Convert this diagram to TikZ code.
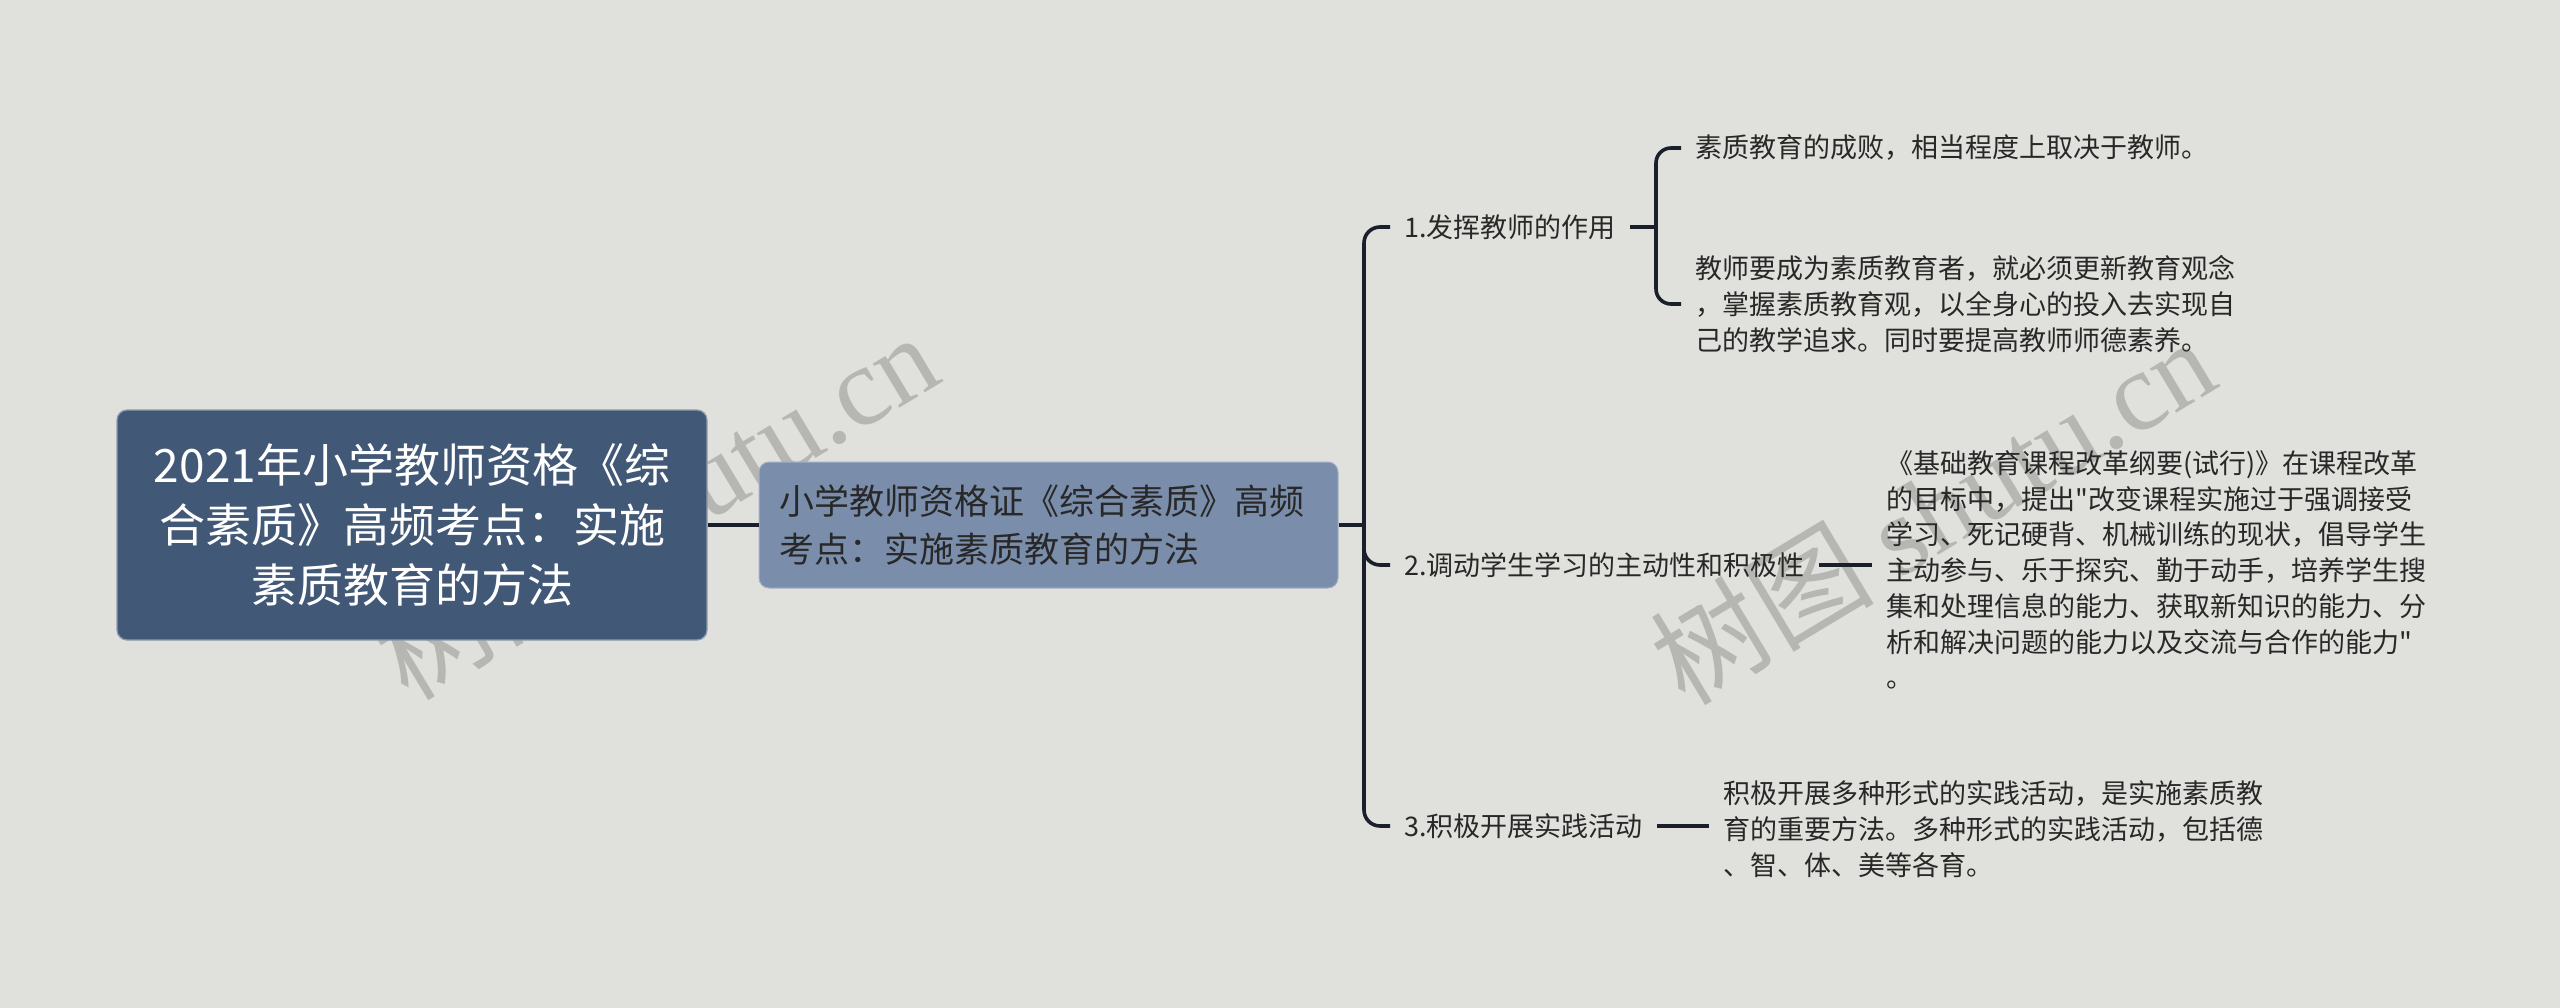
\documentclass[tikz,border=0pt]{standalone}
\usepackage{fontspec}
\setmainfont{Noto Sans CJK SC}
\newfontfamily\cjkf{Noto Sans CJK SC}
\newfontfamily\wmlatin{Liberation Serif}
\definecolor{bg}{RGB}{224,225,220}
\definecolor{rootfill}{RGB}{66,88,119}
\definecolor{subfill}{RGB}{122,142,172}
\definecolor{linec}{RGB}{26,31,44}
\definecolor{txt}{RGB}{40,40,40}
\definecolor{wm}{RGB}{182,182,179}
\begin{document}
\begin{tikzpicture}[x=1pt,y=-1pt,
  rootbox/.style={fill=rootfill,draw=rootfill!60!white,line width=1.2pt,rounded corners=10pt,
    text=white,align=center,text width=560pt,minimum height=230pt,minimum width=590pt,inner xsep=15pt,
    font=\cjkf\fontsize{46}{60}\selectfont},
  subbox/.style={fill=subfill,draw=subfill!70!white,line width=1pt,rounded corners=10pt,
    text=txt,align=left,text width=539pt,minimum height=126pt,inner xsep=20pt,
    font=\cjkf\fontsize{35}{48}\selectfont},
  itembox/.style={text=txt,inner xsep=14pt,inner ysep=2pt,anchor=west,
    font=\cjkf\fontsize{27}{35.7}\selectfont},
  leafbox/.style={text=txt,inner xsep=14pt,inner ysep=2pt,anchor=west,align=left,
    font=\cjkf\fontsize{27}{35.7}\selectfont},
  conn/.style={draw=linec,line width=3.6pt},
  wmark/.style={text=wm,rotate=31,font=\cjkf\fontsize{112}{112}\selectfont}
]
\useasboundingbox[fill=bg] (0,0) rectangle (2560,1008);

% watermarks
\node[wmark] (wm1) at (655,505) {树图 {\wmlatin shutu.cn}};
\node[wmark] (wm2) at (1932,510) {树图 {\wmlatin shutu.cn}};

% main nodes
\node[rootbox] (root) at (412,525) {2021年小学教师资格《综\\合素质》高频考点：实施\\素质教育的方法};
\node[subbox] (sub) at (1048.5,525) {小学教师资格证《综合素质》高频\\考点：实施素质教育的方法};

\node[itembox] (i1) at (1390,227) {1.发挥教师的作用};
\node[itembox] (i2) at (1390,565) {2.调动学生学习的主动性和积极性};
\node[itembox] (i3) at (1390,826) {3.积极开展实践活动};

\node[leafbox] (l1) at (1681,148) {素质教育的成败，相当程度上取决于教师。};
\node[leafbox] (l2) at (1681,304) {教师要成为素质教育者，就必须更新教育观念\\，掌握素质教育观，以全身心的投入去实现自\\己的教学追求。同时要提高教师师德素养。};
\node[leafbox] (l3) at (1872,570) {《基础教育课程改革纲要(试行)》在课程改革\\的目标中，提出"改变课程实施过于强调接受\\学习、死记硬背、机械训练的现状，倡导学生\\主动参与、乐于探究、勤于动手，培养学生搜\\集和处理信息的能力、获取新知识的能力、分\\析和解决问题的能力以及交流与合作的能力"\\。};
\node[leafbox] (l4) at (1709,829) {积极开展多种形式的实践活动，是实施素质教\\育的重要方法。多种形式的实践活动，包括德\\、智、体、美等各育。};

% connectors
\coordinate (spine) at (1364,525);
\coordinate (b1) at (1656,227);
\draw[conn] (root.east) -- (sub.west);
\draw[conn] (sub.east) -- (spine);
\draw[conn,rounded corners=16pt] (i1.west) -| (spine) |- (i3.west);
\draw[conn,rounded corners=16pt] (spine) |- (i2.west);
\draw[conn] (i1.east) -- (b1);
\draw[conn,rounded corners=15pt] (l1.west) -| (b1) |- (l2.west);
\draw[conn] (i2.east) -- (i2.east -| l3.west);
\draw[conn] (i3.east) -- (i3.east -| l4.west);
\end{tikzpicture}
\end{document}
